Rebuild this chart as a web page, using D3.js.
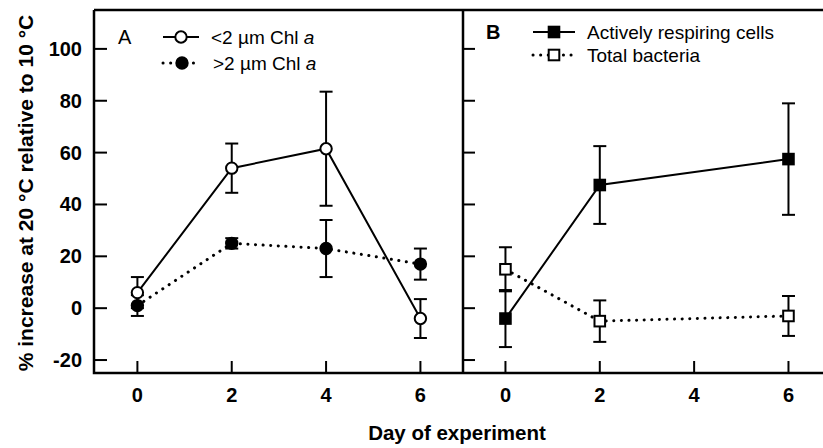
<!DOCTYPE html>
<html>
<head>
<meta charset="utf-8">
<script src="https://cdn.jsdelivr.net/npm/d3@7"></script>
<style>
  body { margin: 0; background: #fff; }
  text { font-family: "Liberation Sans", Arial, sans-serif; fill: #000; }
</style>
</head>
<body>
<script>
// chart values
var dayTicks = [0, 2, 4, 6];
var yTicks = [-20, 0, 20, 40, 60, 80, 100];

// panel A: Chl a
var chlDays = [0, 2, 4, 6];
var smallChl = [6, 54, 61.5, -4];
var smallChlErr = [6, 9.5, 22, 7.5];
var largeChl = [1, 25, 23, 17];
var largeChlErr = [4, 2, 11, 6];

// panel B: bacteria
var bactDays = [0, 2, 6];
var activeCells = [-4, 47.5, 57.5];
var activeCellsErr = [11, 15, 21.5];
var totalBact = [15, -5, -3];
var totalBactErr = [8.5, 8, 7.7];

var width = 823;
var height = 448;
var plotTop = 10, plotBottom = 373;
var unit = 47.17;

var svg = d3.select('body').append('svg')
  .attr('width', width)
  .attr('height', height);

var y = d3.scaleLinear().domain([-25, 115]).range([plotBottom, plotTop]);
var xA = d3.scaleLinear().domain([-0.92, 6.9]).range([94, 94 + 7.82 * unit]);
var xB = d3.scaleLinear().domain([-0.9, -0.9 + (823 - 463) / unit]).range([463, 823]);

var zip = function (xs, ys, es) {
  return xs.map(function (d, i) { return { x: d, y: ys[i], e: es[i] }; });
};

var drawMarker = function (g, cx, cy, opts) {
  var fill = opts.filled ? '#000' : '#fff';
  if (opts.shape === 'circle') {
    g.append('circle').attr('cx', cx).attr('cy', cy).attr('r', 5.7)
      .attr('fill', fill).attr('stroke', '#000').attr('stroke-width', 2);
  } else {
    g.append('rect').attr('x', cx - 5.3).attr('y', cy - 5.3).attr('width', 10.6).attr('height', 10.6)
      .attr('fill', fill).attr('stroke', '#000').attr('stroke-width', 2);
  }
};

var styleLine = function (sel, dotted) {
  if (dotted) {
    sel.attr('stroke-width', 3).attr('stroke-linecap', 'round').attr('stroke-dasharray', '0.1,7.5');
  } else {
    sel.attr('stroke-width', 2);
  }
};

var drawSeries = function (g, x, pts, opts) {
  // error bars first, so the markers sit on top
  var eb = g.append('g').attr('stroke', '#000').attr('stroke-width', 2);
  pts.forEach(function (p) {
    var cx = x(p.x);
    eb.append('line').attr('x1', cx).attr('x2', cx).attr('y1', y(p.y - p.e)).attr('y2', y(p.y + p.e));
    eb.append('line').attr('x1', cx - 6.5).attr('x2', cx + 6.5).attr('y1', y(p.y + p.e)).attr('y2', y(p.y + p.e));
    eb.append('line').attr('x1', cx - 6.5).attr('x2', cx + 6.5).attr('y1', y(p.y - p.e)).attr('y2', y(p.y - p.e));
  });
  var line = d3.line().x(function (d) { return x(d.x); }).y(function (d) { return y(d.y); });
  var path = g.append('path').datum(pts)
    .attr('d', line)
    .attr('fill', 'none')
    .attr('stroke', '#000');
  styleLine(path, opts.dotted);
  pts.forEach(function (p) {
    drawMarker(g, x(p.x), y(p.y), opts);
  });
};

var drawLegendRow = function (g, x1, x2, cy, label, italic, opts) {
  var l = g.append('line').attr('x1', x1).attr('x2', x2).attr('y1', cy).attr('y2', cy)
    .attr('stroke', '#000');
  styleLine(l, opts.dotted);
  drawMarker(g, (x1 + x2) / 2, cy, opts);
  var t = g.append('text').attr('x', x2 + 12).attr('y', cy + 6.5)
    .style('font-size', '19px');
  t.append('tspan').text(label);
  if (italic) t.append('tspan').style('font-style', 'italic').text(' ' + italic);
};

// frames
var frame = svg.append('g').attr('stroke', '#000').attr('stroke-width', 2.5).attr('fill', 'none');
frame.append('path').attr('d', 'M94,' + plotTop + 'V' + plotBottom + 'H823');
frame.append('path').attr('d', 'M94,' + plotTop + 'H823');
frame.append('path').attr('d', 'M463,' + plotTop + 'V' + plotBottom);

// ticks, all pointing inward
var ticks = svg.append('g').attr('stroke', '#000').attr('stroke-width', 2);
yTicks.forEach(function (v) {
  ticks.append('line').attr('x1', 94).attr('x2', 107).attr('y1', y(v)).attr('y2', y(v));
  ticks.append('line').attr('x1', 463).attr('x2', 475).attr('y1', y(v)).attr('y2', y(v));
});
dayTicks.forEach(function (d) {
  ticks.append('line').attr('x1', xA(d)).attr('x2', xA(d)).attr('y1', plotBottom).attr('y2', plotBottom - 12);
  ticks.append('line').attr('x1', xB(d)).attr('x2', xB(d)).attr('y1', plotBottom).attr('y2', plotBottom - 12);
});

// tick labels
var labels = svg.append('g').style('font-size', '20px').style('font-weight', 'bold');
yTicks.forEach(function (v) {
  labels.append('text').attr('x', 82).attr('y', y(v) + 7).attr('text-anchor', 'end').text(v);
});
dayTicks.forEach(function (d) {
  labels.append('text').attr('x', xA(d)).attr('y', 402).attr('text-anchor', 'middle').text(d);
  labels.append('text').attr('x', xB(d)).attr('y', 402).attr('text-anchor', 'middle').text(d);
});

// axis titles
svg.append('text')
  .attr('transform', 'translate(33,193) rotate(-90)')
  .attr('text-anchor', 'middle')
  .style('font-size', '21px').style('font-weight', 'bold')
  .text('% increase at 20 °C relative to 10 °C');
svg.append('text')
  .attr('x', 457).attr('y', 440)
  .attr('text-anchor', 'middle')
  .style('font-size', '20.5px').style('font-weight', 'bold')
  .text('Day of experiment');

// panel letters
svg.append('text').attr('x', 118).attr('y', 44).style('font-size', '20px').text('A');
svg.append('text').attr('x', 486).attr('y', 39).style('font-size', '20px').style('font-weight', 'bold').text('B');

// panel A
var gA = svg.append('g');
drawSeries(gA, xA, zip(chlDays, largeChl, largeChlErr), { shape: 'circle', filled: true, dotted: true });
drawSeries(gA, xA, zip(chlDays, smallChl, smallChlErr), { shape: 'circle', filled: false, dotted: false });

// panel B
var gB = svg.append('g');
drawSeries(gB, xB, zip(bactDays, totalBact, totalBactErr), { shape: 'square', filled: false, dotted: true });
drawSeries(gB, xB, zip(bactDays, activeCells, activeCellsErr), { shape: 'square', filled: true, dotted: false });

// legends
var leg = svg.append('g');
drawLegendRow(leg, 163, 199, 37, '<2 µm Chl', 'a', { shape: 'circle', filled: false, dotted: false });
drawLegendRow(leg, 163, 201, 63, '>2 µm Chl', 'a', { shape: 'circle', filled: true, dotted: true });
drawLegendRow(leg, 533, 575, 32, 'Actively respiring cells', null, { shape: 'square', filled: true, dotted: false });
drawLegendRow(leg, 533, 575, 55, 'Total bacteria', null, { shape: 'square', filled: false, dotted: true });
</script>
</body>
</html>
